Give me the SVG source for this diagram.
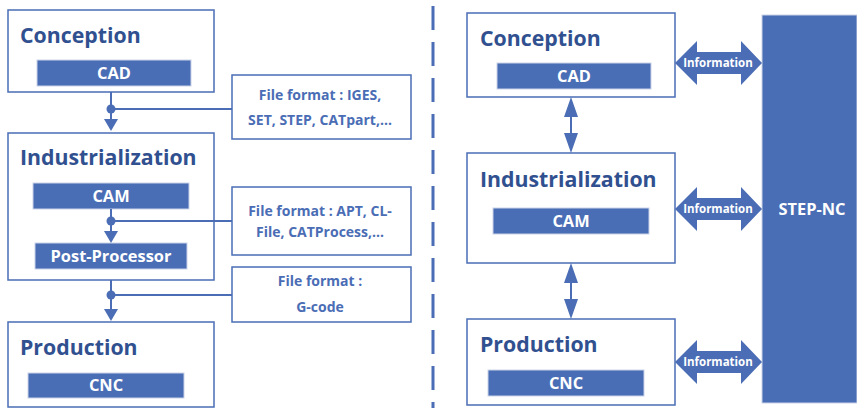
<svg xmlns="http://www.w3.org/2000/svg" width="857" height="408" viewBox="0 0 857 408">
<style>
.box{fill:#fff;stroke:#4A6DB5;stroke-width:1.5}
.bar{fill:#4A6EB5;stroke:#C9D3E8;stroke-width:1}
.ttl{font-family:"Open Sans",sans-serif;font-weight:700;font-size:21.3px;fill:#30508F}
.bt{font-family:"Open Sans",sans-serif;font-weight:700;font-size:16.4px;fill:#fff;text-anchor:middle}
.ff{font-family:"Open Sans",sans-serif;font-weight:700;font-size:14px;fill:#4A6DB5;text-anchor:middle}
.inf{font-family:"Open Sans",sans-serif;font-weight:700;font-size:11.5px;fill:#fff;text-anchor:middle}
.ln{stroke:#4A6DB5;stroke-width:2;fill:none}
.ah{fill:#4A6DB5}
</style>
<rect width="857" height="408" fill="#fff"/>
<line x1="433" y1="0" x2="433" y2="408" stroke="#4A6DB5" stroke-width="3" stroke-dasharray="24 12" stroke-dashoffset="-6"/>

<g id="L-conception">
<rect class="box" x="8" y="10" width="206" height="82"/>
<text class="ttl" x="20" y="43">Conception</text>
<rect class="bar" x="37" y="60" width="154" height="26"/>
<text class="bt" x="114" y="79">CAD</text>
</g>
<g id="L-industrialization">
<rect class="box" x="8" y="133" width="206" height="147"/>
<text class="ttl" x="20" y="165">Industrialization</text>
<rect class="bar" x="33" y="183" width="156" height="26"/>
<text class="bt" x="111" y="202">CAM</text>
<rect class="bar" x="35" y="243" width="152" height="26"/>
<text class="bt" x="111" y="262">Post-Processor</text>
</g>
<g id="L-production">
<rect class="box" x="8" y="322" width="206" height="85"/>
<text class="ttl" x="20" y="355">Production</text>
<rect class="bar" x="28" y="373" width="156" height="25"/>
<text class="bt" x="106" y="391">CNC</text>
</g>
<g id="ff1">
<rect class="box" x="232" y="75" width="179" height="64"/>
<text class="ff" x="320" y="100">File format : IGES,</text>
<text class="ff" x="320" y="125">SET, STEP, CATpart,...</text>
</g>
<g id="ff2">
<rect class="box" x="232" y="187" width="179" height="68"/>
<text class="ff" x="320" y="216">File format : APT, CL-</text>
<text class="ff" x="320" y="237">File, CATProcess,...</text>
</g>
<g id="ff3">
<rect class="box" x="232" y="267" width="179" height="55"/>
<text class="ff" x="320" y="286">File format :</text>
<text class="ff" x="320" y="312">G-code</text>
</g>

<g id="R-conception">
<rect class="box" x="467" y="13" width="208" height="84"/>
<text class="ttl" x="480" y="46">Conception</text>
<rect class="bar" x="497" y="63" width="154" height="26"/>
<text class="bt" x="574" y="82">CAD</text>
</g>
<g id="R-industrialization">
<rect class="box" x="467" y="153" width="208" height="110"/>
<text class="ttl" x="480" y="187">Industrialization</text>
<rect class="bar" x="493" y="208" width="156" height="26"/>
<text class="bt" x="571" y="227">CAM</text>
</g>
<g id="R-production">
<rect class="box" x="467" y="319" width="208" height="86"/>
<text class="ttl" x="480" y="352">Production</text>
<rect class="bar" x="488" y="370" width="156" height="26"/>
<text class="bt" x="566" y="389">CNC</text>
</g>
<g id="step-nc">
<rect x="762" y="15" width="95" height="388" fill="#4A6EB5" stroke="#C9D3E8" stroke-width="1"/>
<text class="bt" x="812" y="215" font-size="17">STEP-NC</text>
</g>

<g id="connectors">
<line class="ln" x1="111" y1="92" x2="111" y2="121"/>
<circle class="ah" cx="111" cy="109" r="4.5"/>
<line class="ln" x1="111" y1="109" x2="232" y2="109"/>
<polygon class="ah" points="104,119 118,119 111,131"/>

<line class="ln" x1="111" y1="209" x2="111" y2="233"/>
<circle class="ah" cx="111" cy="221" r="4.5"/>
<line class="ln" x1="111" y1="221" x2="232" y2="221"/>
<polygon class="ah" points="104,231 118,231 111,243"/>

<line class="ln" x1="111" y1="280" x2="111" y2="311"/>
<circle class="ah" cx="111" cy="295" r="4.5"/>
<line class="ln" x1="111" y1="295" x2="232" y2="295"/>
<polygon class="ah" points="104,309 118,309 111,321"/>

<line class="ln" x1="571" y1="112" x2="571" y2="138" stroke-width="3"/>
<polygon class="ah" points="571,97 564,117 578,117"/>
<polygon class="ah" points="571,153 564,133 578,133"/>

<line class="ln" x1="571" y1="278" x2="571" y2="304" stroke-width="3"/>
<polygon class="ah" points="571,263 564,283 578,283"/>
<polygon class="ah" points="571,319 564,299 578,299"/>

<g id="info1">
<polygon class="ah" points="675,63 697,41 697,52 741,52 741,41 762,63 741,85 741,74 697,74 697,85"/>
<text class="inf" x="718" y="67">Information</text>
</g>
<g id="info2">
<polygon class="ah" points="675,209 697,187 697,198 741,198 741,187 762,209 741,231 741,220 697,220 697,231"/>
<text class="inf" x="718" y="213">Information</text>
</g>
<g id="info3">
<polygon class="ah" points="675,362 697,340 697,351 741,351 741,340 762,362 741,384 741,373 697,373 697,384"/>
<text class="inf" x="718" y="366">Information</text>
</g>
</g>
</svg>
